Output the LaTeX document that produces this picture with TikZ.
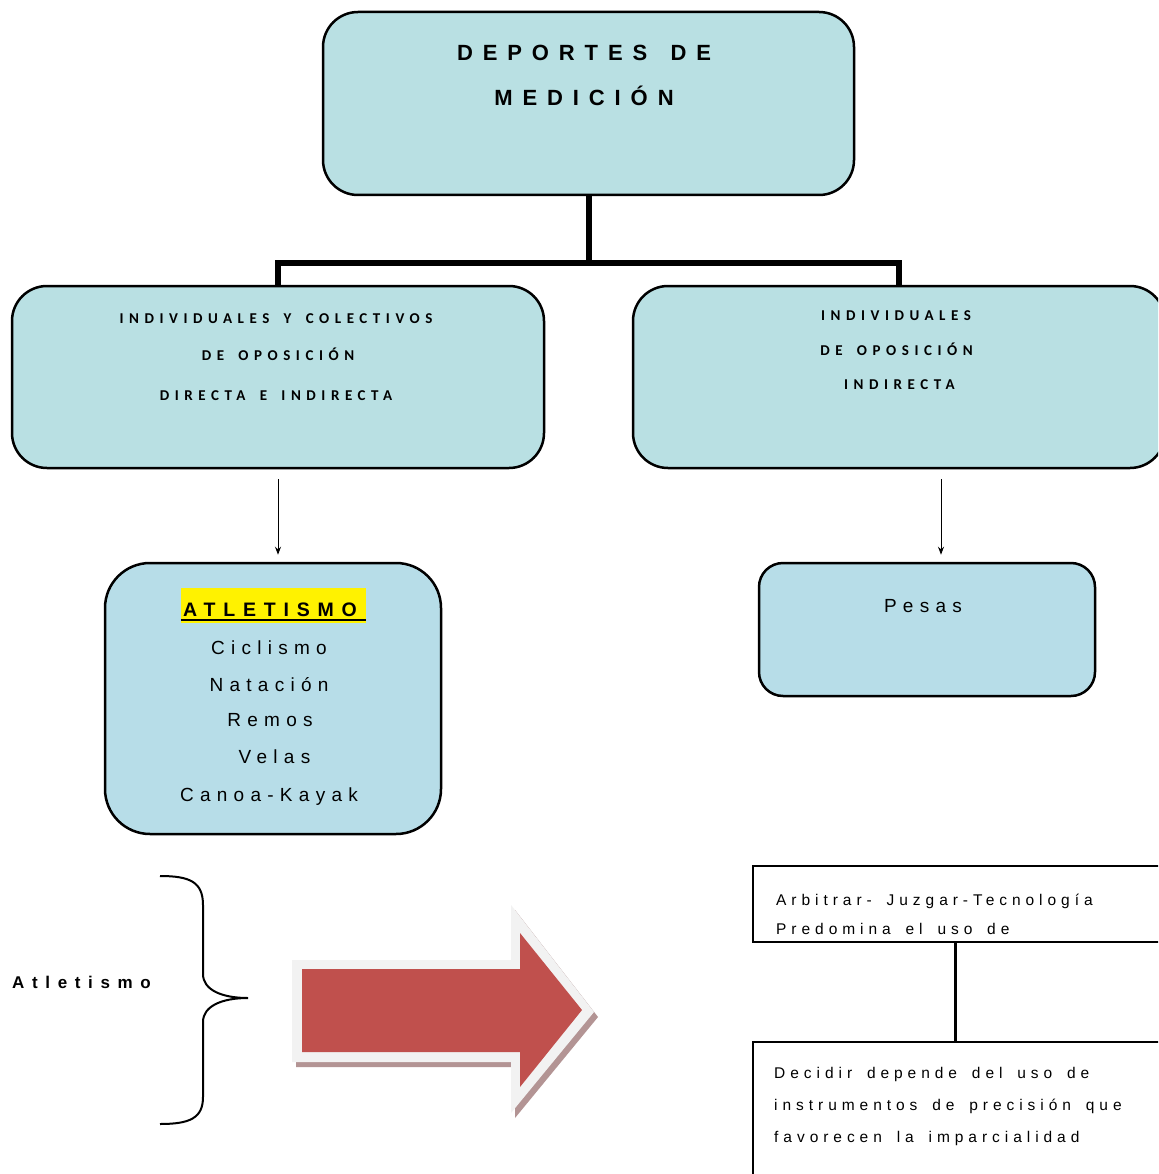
\documentclass[tikz,border=0pt]{standalone}
\usepackage{fontspec}
\setmainfont{Liberation Sans}
\newfontfamily\spA[LetterSpace=45,WordSpace=1.45]{Liberation Sans}
\newfontfamily\spB[LetterSpace=37,WordSpace=1.6]{Carlito}
\newfontfamily\spC[LetterSpace=33]{Liberation Sans}
\newfontfamily\spE[LetterSpace=40]{Liberation Sans}
\newfontfamily\spD[LetterSpace=32,WordSpace=1.6]{Liberation Sans}
\usetikzlibrary{arrows.meta,calc}
\definecolor{boxA}{HTML}{B9E0E3}
\definecolor{boxB}{HTML}{B7DDE8}
\definecolor{arrowred}{HTML}{C0504D}
\definecolor{arrowrim}{HTML}{F2F2F2}
\definecolor{arrowshadow}{HTML}{B39494}
\begin{document}
\begin{tikzpicture}[x=1pt,y=-1pt,
  boxa/.style={draw=black, line width=2.5pt, fill=boxA, inner sep=0pt},
  boxb/.style={draw=black, line width=2.5pt, fill=boxB, inner sep=0pt},
  plainbox/.style={draw=black, line width=2.5pt, fill=white, inner sep=0pt},
  toptext/.style={anchor=base, inner sep=0pt, font=\spA\bfseries\fontsize{22}{26}\selectfont},
  midtext/.style={anchor=base, inner sep=0pt, font=\spB\bfseries\fontsize{15}{18}\selectfont},
  itemtext/.style={anchor=base, inner sep=0pt, font=\spC\fontsize{19}{22}\selectfont},
  notetext/.style={anchor=base west, inner sep=0pt, font=\spD\fontsize{15.5}{18}\selectfont},
  thinarrow/.style={draw=black, line width=1pt, -{Stealth[length=8pt,width=6pt]}},
  thickline/.style={draw=black, line width=6pt, line join=miter}
]
\clip (0,0) rectangle (1158,1174);
\fill[white] (0,0) rectangle (1158,1174);

% top box
\node[boxa, rounded corners=35pt, minimum width=531pt, minimum height=183pt] (top) at (588.5,103.5) {};
\node[toptext] (t1) at (584,61) {DEPORTES DE};
\node[toptext] (t2) at (584,106) {MEDICIÓN};

% middle boxes
\node[boxa, rounded corners=35pt, minimum width=532pt, minimum height=182pt] (mid1) at (278,377) {};
\node[boxa, rounded corners=35pt, minimum width=532pt, minimum height=182pt] (mid2) at (899,377) {};

\draw[thickline] (top.south) -- ++(0,67) -| (mid1.north);
\draw[thickline] (top.south) -- ++(0,67) -| (mid2.north);

\node[midtext] (m1a) at (276,323) {INDIVIDUALES Y COLECTIVOS};
\node[midtext] (m1b) at (278,360) {DE OPOSICIÓN};
\node[midtext] (m1c) at (276,400) {DIRECTA E INDIRECTA};

\node[midtext] (m2a) at (896,320) {INDIVIDUALES};
\node[midtext] (m2b) at (896.5,355) {DE OPOSICIÓN};
\node[midtext] (m2c) at (899.5,389) {INDIRECTA};

% lower boxes
\node[boxb, rounded corners=45pt, minimum width=336pt, minimum height=271pt] (atl) at (273,698.5) {};
\node[boxb, rounded corners=24pt, minimum width=336pt, minimum height=133pt] (pesas) at (927,629.5) {};

\draw[thinarrow, shorten <=10pt, shorten >=7pt] (mid1.south) -- (mid1.south |- atl.north);
\draw[thinarrow, shorten <=10pt, shorten >=7pt] ([xshift=42pt]mid2.south) -- ([xshift=42pt]mid2.south |- pesas.north);

\node[fill=yellow, minimum width=185pt, minimum height=35pt, inner sep=0pt] (hl) at (273.5,605.5) {};
\draw[line width=2.2pt] ([yshift=3pt]hl.south west) -- ([yshift=3pt]hl.south east);
\node[anchor=base, inner sep=0pt, font=\spE\bfseries\fontsize{19.5}{22}\selectfont] (a0) at (270,616) {ATLETISMO};
\node[itemtext] (a1) at (269,654) {Ciclismo};
\node[itemtext] (a2) at (269,691) {Natación};
\node[itemtext] (a3) at (270,726) {Remos};
\node[itemtext] (a4) at (274.5,763) {Velas};
\node[itemtext] (a5) at (269,801) {Canoa-Kayak};

\node[itemtext] (p1) at (923,612) {Pesas};

% brace and label
\node[anchor=base west, inner sep=0pt, font=\spA\bfseries\fontsize{17}{20}\selectfont] (lab) at (12,988) {Atletismo};
\draw[line width=2pt] (160,876) .. controls (190,876) and (203,882) .. (203,905)
  -- (203,974) .. controls (203,990) and (222,998) .. (248,998)
  .. controls (222,998) and (203,1006) .. (203,1022)
  -- (203,1097) .. controls (203,1118) and (190,1124) .. (160,1124);

% block arrow
\fill[arrowshadow] (296,965) -- (515,965) -- (515,910) -- (598,1017) -- (515,1118) -- (515,1067) -- (296,1067) -- cycle;
\fill[arrowrim] (292,960) -- (511,960) -- (511,905) -- (594,1012) -- (511,1113) -- (511,1062) -- (292,1062) -- cycle;
\fill[arrowred] (302,969) -- (520,969) -- (520,933) -- (582,1010) -- (520,1087) -- (520,1052) -- (302,1052) -- cycle;

% right bottom boxes
\node[plainbox, minimum width=417pt, minimum height=76pt] (r1) at (961.5,904) {};
\node[plainbox, minimum width=417pt, minimum height=143pt] (r2) at (961.5,1113.5) {};
\draw[line width=3pt] ([xshift=-6.5pt]r1.south) -- ([xshift=-6.5pt]r1.south |- r2.north);

\node[notetext] (n1) at (776,905) {Arbitrar- Juzgar-Tecnología};
\node[notetext] (n2) at (776,934) {Predomina el uso de};
\node[notetext] (n3) at (774,1078) {Decidir depende del uso de};
\node[notetext] (n4) at (774,1110) {instrumentos de precisión que};
\node[notetext] (n5) at (774,1142) {favorecen la imparcialidad};
\end{tikzpicture}
\end{document}
